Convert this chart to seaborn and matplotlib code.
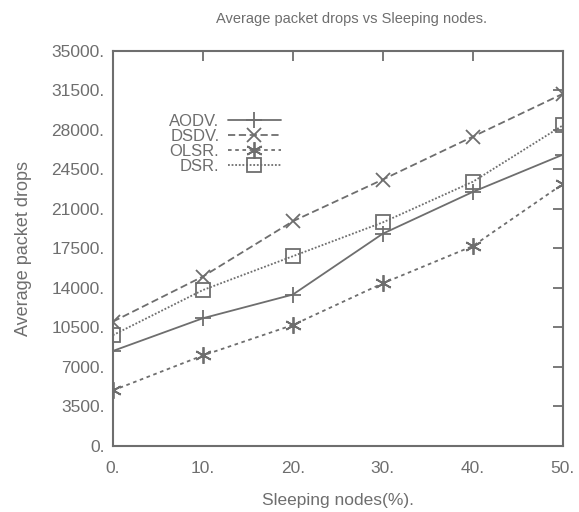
import pandas as pd
import numpy as np
import matplotlib
matplotlib.use("Agg")
import matplotlib.pyplot as plt
import seaborn as sns

# values
sleeping = [0, 10, 20, 30, 40, 50]
aodv = [8400, 11300, 13400, 18800, 22500, 25800]
dsdv = [11000, 15000, 19900, 23600, 27400, 31200]
olsr = [4900, 8000, 10700, 14400, 17700, 23200]
dsr = [9800, 13800, 16800, 19800, 23400, 28400]

protocols = ["AODV", "DSDV", "OLSR", "DSR"]
yticks = [0, 3500, 7000, 10500, 14000, 17500, 21000, 24500, 28000, 31500, 35000]

sns.set_style("white")
plt.rcParams['font.family'] = ['Liberation Sans', 'DejaVu Sans']

df = pd.DataFrame({"Sleeping": sleeping * 4,
                   "Drops": aodv + dsdv + olsr + dsr,
                   "Protocol": np.repeat(protocols, len(sleeping))})

grey = "#6e6e6e"
styles = {
    "AODV": dict(marker="+", linestyle="-", markersize=12),
    "DSDV": dict(marker="x", linestyle=(0, (4, 2)), markersize=10),
    "OLSR": dict(marker=(6, 2, 0), linestyle=(0, (2, 2)), markersize=12),
    "DSR": dict(marker="s", linestyle=(0, (1, 1)), markersize=10, markerfacecolor="none"),
}

fig = plt.figure(figsize=(5.79, 5.12), dpi=100)
ax = fig.add_axes([0.195, 0.1295, 0.777, 0.771])

for p in protocols:
    sub = df[df["Protocol"] == p]
    sns.lineplot(data=sub, x="Sleeping", y="Drops", ax=ax, color=grey,
                 linewidth=1.3, markeredgewidth=1.3, markeredgecolor=grey,
                 label=p + ".", **styles[p])

ax.set_xlim(0, 50)
ax.set_ylim(0, 35000)
ax.set_xticks(sleeping)
ax.set_xticklabels([f"{v}." for v in sleeping])
ax.set_yticks(yticks)
ax.set_yticklabels([f"{v}." for v in yticks])
ax.tick_params(direction="in", length=7, width=1.3, color=grey, labelcolor=grey,
               labelsize=12.5, top=True, right=True)
ax.tick_params(axis="x", pad=11)
ax.tick_params(axis="y", pad=6)
for s in ax.spines.values():
    s.set_color(grey)
    s.set_linewidth(1.5)

ax.set_xlabel("Sleeping nodes(%).", color=grey, fontsize=12.5, labelpad=12)
ax.set_ylabel("Average packet drops", color=grey, fontsize=13, labelpad=14)
ax.set_title("Average packet drops vs Sleeping nodes.", color=grey, fontsize=10.5,
             pad=20, x=0.53)

leg = ax.legend(loc="upper left", bbox_to_anchor=(0.125, 0.84), frameon=False,
                markerfirst=False, fontsize=12, handlelength=3.2,
                labelspacing=0.0, handletextpad=0.5, borderaxespad=0, borderpad=0)
for t in leg.get_texts():
    t.set_color(grey)
    t.set_ha("right")

fig.savefig("out.png", dpi=100)
